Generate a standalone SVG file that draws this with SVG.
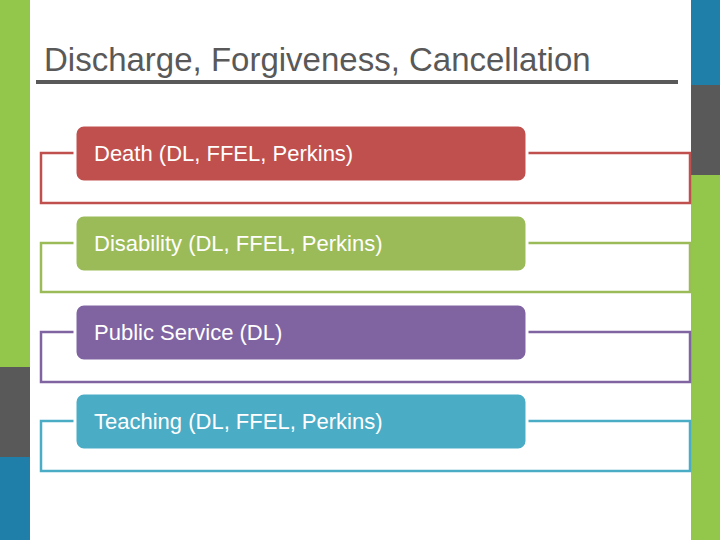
<svg xmlns="http://www.w3.org/2000/svg" width="720" height="540" viewBox="0 0 720 540">
<style>
.fr{fill:none;stroke-width:2.5}
.bx{stroke:#fff;stroke-width:3}
.t{font-family:"Liberation Sans",Arial,sans-serif;font-size:22px;fill:#fff}
</style>
<rect width="720" height="540" fill="#fff"/>
<rect x="0" y="0" width="30" height="367" fill="#92c74c"/>
<rect x="0" y="367" width="30" height="90" fill="#595959"/>
<rect x="0" y="457" width="30" height="83" fill="#1f7fa8"/>
<rect x="691" y="0" width="29" height="85" fill="#1f7fa8"/>
<rect x="691" y="85" width="29" height="90" fill="#595959"/>
<rect x="691" y="175" width="29" height="365" fill="#92c74c"/>
<text x="44" y="71" font-family="Liberation Sans,Arial,sans-serif" font-size="33" fill="#595959">Discharge, Forgiveness, Cancellation</text>
<rect x="36" y="80" width="642" height="4" fill="#595959"/>
<g id="connectors">
<rect class="fr" x="41" y="153" width="649" height="50" stroke="#c0504d"/>
<rect class="fr" x="41" y="243" width="649" height="49" stroke="#9bbb59"/>
<rect class="fr" x="41" y="332" width="649" height="50" stroke="#8064a2"/>
<rect class="fr" x="41" y="421" width="649" height="50" stroke="#4bacc6"/>
</g>
<g id="n1"><rect class="bx" x="75" y="125" width="452" height="57" rx="9" fill="#c0504d"/><text class="t" x="94" y="161">Death (DL, FFEL, Perkins)</text></g>
<g id="n2"><rect class="bx" x="75" y="215" width="452" height="57" rx="9" fill="#9bbb59"/><text class="t" x="94" y="251">Disability (DL, FFEL, Perkins)</text></g>
<g id="n3"><rect class="bx" x="75" y="304" width="452" height="57" rx="9" fill="#8064a2"/><text class="t" x="94" y="340">Public Service (DL)</text></g>
<g id="n4"><rect class="bx" x="75" y="393" width="452" height="57" rx="9" fill="#4bacc6"/><text class="t" x="94" y="429">Teaching (DL, FFEL, Perkins)</text></g>
</svg>
